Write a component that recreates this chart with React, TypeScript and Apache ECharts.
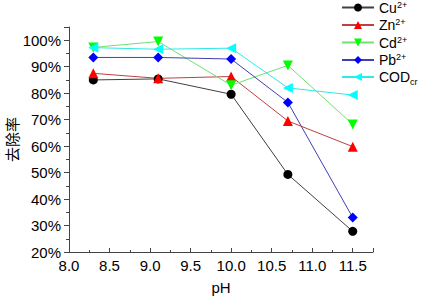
import React, { useEffect, useRef } from "react";
import * as echarts from "echarts";

const phValues = [8.3, 9.1, 10.0, 10.7, 11.5];
const cu = [85.0, 85.4, 79.6, 49.3, 27.8];
const zn = [87.5, 85.6, 86.3, 69.5, 59.8];
const cd = [97.3, 99.5, 83.0, 90.5, 68.2];
const pb = [93.5, 93.5, 92.9, 76.5, 33.0];
const cod = [97.2, 96.6, 97.0, 82.0, 79.3];
const seriesNames = ["Cu2+", "Zn2+", "Cd2+", "Pb2+", "CODcr"];

const FONT = "Arial, 'Liberation Sans', sans-serif";

const legendLabel: Record<string, string> = {
  "Cu2+": "{b|Cu}{sup|2+}",
  "Zn2+": "{b|Zn}{sup|2+}",
  "Cd2+": "{b|Cd}{sup|2+}",
  "Pb2+": "{b|Pb}{sup|2+}",
  "CODcr": "{b|COD}{sub|cr}",
};

export default function App() {
  const ref = useRef<HTMLDivElement>(null);
  useEffect(() => {
    if (!ref.current) return;
    const chart = echarts.init(ref.current, undefined, { renderer: "svg" });
    const mk = (name: string, data: number[], color: string, lineColor: string, symbol: string, rotate: number, size: number) => ({
      name,
      type: "line",
      data: phValues.map((x, i) => [x, data[i]]),
      symbol,
      symbolSize: size,
      symbolRotate: rotate,
      itemStyle: { color },
      lineStyle: { color: lineColor, width: 1 },
      z: 3,
    });
    chart.setOption({
      animation: false,
      backgroundColor: "#fff",
      grid: { left: 69, right: 49, top: 27, bottom: 45, containLabel: false, outerBoundsMode: "none" },
      legend: {
        orient: "vertical",
        left: 341,
        top: 0,
        padding: 0,
        itemWidth: 32,
        itemHeight: 10,
        itemGap: 3,
        data: seriesNames,
        formatter: (n: string) => legendLabel[n],
        textStyle: {
          fontFamily: FONT,
          color: "#000",
          rich: {
            b: { fontSize: 14, fontFamily: FONT, color: "#000" },
            sup: { fontSize: 9, fontFamily: FONT, color: "#000", verticalAlign: "top", padding: [0, 0, 6, 0] },
            sub: { fontSize: 9, fontFamily: FONT, color: "#000", padding: [10, 0, 0, 0] },
          },
        },
      },
      xAxis: {
        type: "value",
        min: 8,
        max: 11.75,
        interval: 0.5,
        name: "pH",
        nameLocation: "middle",
        nameGap: 28,
        nameMoveOverlap: false,
        nameTextStyle: { fontSize: 15, fontFamily: FONT, color: "#000" },
        axisLine: { lineStyle: { color: "#444", width: 1 } },
        axisTick: { inside: true, length: 4, lineStyle: { color: "#444" } },
        minorTick: { show: true, splitNumber: 2, length: 2, lineStyle: { color: "#444" } },
        splitLine: { show: false },
        axisLabel: {
          fontSize: 15,
          fontFamily: FONT,
          color: "#000",
          margin: 6,
          showMaxLabel: false,
          formatter: (v: number) => v.toFixed(1),
        },
      },
      yAxis: {
        type: "value",
        min: 20,
        max: 105,
        interval: 10,
        name: "去除率",
        nameLocation: "middle",
        nameGap: 50,
        nameRotate: 90,
        nameMoveOverlap: false,
        nameTextStyle: { fontSize: 15, fontFamily: "'Noto Sans CJK SC', sans-serif", color: "#000" },
        axisLine: { show: true, lineStyle: { color: "#444", width: 1 } },
        axisTick: { inside: false, length: 5, lineStyle: { color: "#444" } },
        minorTick: { show: true, splitNumber: 2, length: 3, lineStyle: { color: "#444" } },
        splitLine: { show: false },
        axisLabel: {
          fontSize: 15,
          fontFamily: FONT,
          color: "#000",
          margin: 8,
          showMaxLabel: false,
          formatter: "{value}%",
        },
      },
      series: [
        mk("Cu2+", cu, "#000000", "#404040", "circle", 0, 9),
        mk("Zn2+", zn, "#ff0000", "#c04040", "triangle", 0, 10),
        mk("Cd2+", cd, "#00ff00", "#70e070", "triangle", 180, 10),
        mk("Pb2+", pb, "#0000ff", "#4040b0", "diamond", 0, 10),
        mk("CODcr", cod, "#00ffff", "#30e8e8", "triangle", 90, 10),
      ],
    });
    return () => chart.dispose();
  }, []);
  return <div ref={ref} style={{ width: 422, height: 297, position: "absolute", left: 0, top: 0 }} />;
}
